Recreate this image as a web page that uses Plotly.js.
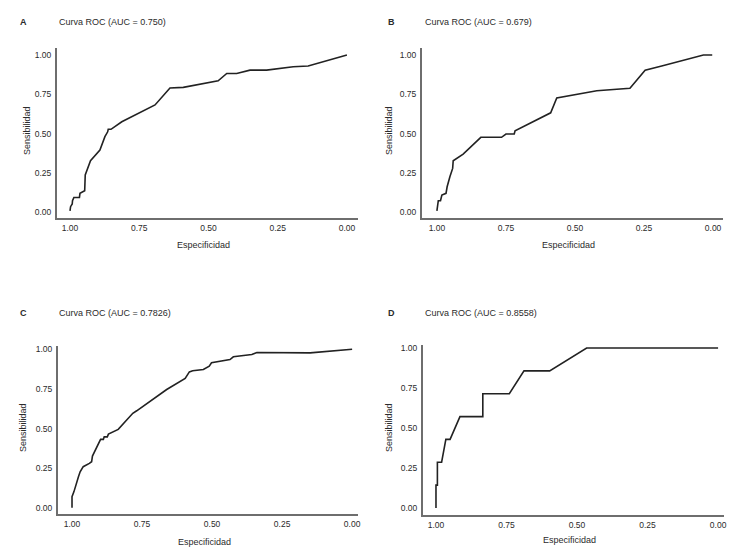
<!DOCTYPE html>
<html>
<head>
<meta charset="utf-8">
<script src="https://cdn.plot.ly/plotly-3.0.1.min.js"></script>
<style>html,body{margin:0;padding:0;background:#fff}#chart{width:749px;height:555px}</style>
</head>
<body>
<div id="chart"></div>
<script>
// Panel A (AUC = 0.750)
const specA = [1.0, 0.998, 0.992, 0.991, 0.986, 0.966, 0.964, 0.947, 0.945, 0.937, 0.926, 0.892, 0.874, 0.864, 0.862, 0.852, 0.813, 0.693, 0.639, 0.591, 0.465, 0.434, 0.398, 0.350, 0.290, 0.194, 0.140, 0.0];
const sensA = [0.008, 0.034, 0.051, 0.072, 0.093, 0.093, 0.119, 0.136, 0.236, 0.278, 0.327, 0.395, 0.480, 0.511, 0.527, 0.527, 0.575, 0.682, 0.790, 0.794, 0.836, 0.883, 0.883, 0.904, 0.904, 0.926, 0.930, 1.0];
// Panel B (AUC = 0.679)
const specB = [1.0, 0.999, 0.995, 0.987, 0.982, 0.967, 0.963, 0.953, 0.943, 0.941, 0.905, 0.841, 0.766, 0.750, 0.720, 0.717, 0.588, 0.566, 0.421, 0.301, 0.246, 0.186, 0.035, 0.003];
const sensB = [0.008, 0.024, 0.072, 0.072, 0.108, 0.119, 0.161, 0.225, 0.278, 0.327, 0.369, 0.476, 0.476, 0.497, 0.497, 0.518, 0.632, 0.726, 0.773, 0.788, 0.904, 0.930, 1.0, 1.0];
// Panel C (AUC = 0.7826)
const specC = [1.0, 1.0, 0.993, 0.986, 0.977, 0.971, 0.960, 0.938, 0.930, 0.927, 0.912, 0.898, 0.888, 0.885, 0.874, 0.870, 0.835, 0.783, 0.769, 0.662, 0.596, 0.581, 0.569, 0.531, 0.510, 0.502, 0.436, 0.424, 0.358, 0.340, 0.150, 0.0];
const sensC = [0.002, 0.071, 0.103, 0.151, 0.197, 0.228, 0.260, 0.281, 0.291, 0.327, 0.382, 0.432, 0.432, 0.448, 0.448, 0.465, 0.495, 0.596, 0.612, 0.746, 0.816, 0.857, 0.864, 0.872, 0.893, 0.914, 0.935, 0.952, 0.966, 0.979, 0.977, 1.0];
// Panel D (AUC = 0.8558)
const specD = [1.0, 1.0, 0.995, 0.995, 0.980, 0.965, 0.950, 0.915, 0.834, 0.834, 0.740, 0.688, 0.597, 0.466, 0.0];
const sensD = [0.0, 0.143, 0.143, 0.286, 0.286, 0.429, 0.429, 0.571, 0.571, 0.714, 0.714, 0.857, 0.857, 1.0, 1.0];

const panelLetters = ["A", "B", "C", "D"];
const panelTitles = ["Curva ROC (AUC = 0.750)", "Curva ROC (AUC = 0.679)", "Curva ROC (AUC = 0.7826)", "Curva ROC (AUC = 0.8558)"];
const tickVals = [0, 0.25, 0.5, 0.75, 1];
const tickText = ["0.00", "0.25", "0.50", "0.75", "1.00"];
const xTitle = "Especificidad";
const yTitle = "Sensibilidad";

const W = 749, H = 555;
const FONT = "Liberation Sans, Arial, sans-serif";
const TXT = "#2b2b2b";

const series = [[specA, sensA], [specB, sensB], [specC, sensC], [specD, sensD]];
// pixel geometry for each panel: [left, right, top, bottom]
const boxes = [[57, 358, 48, 218], [422, 723, 48, 218], [58, 358, 346, 514], [423, 724, 345, 515]];
const xr = [[1.047, -0.040], [1.054, -0.036], [1.05, -0.021], [1.046, -0.021]];
const yr = [[-0.038, 1.045], [-0.038, 1.045], [-0.038, 1.02], [-0.044, 1.019]];
const titleY = [22, 22, 313, 313];
const letterX = [18, 386, 18, 386];
const titleX = [57, 423, 57, 423];
const xTitleY = [245, 245, 542, 540];
const yTitleX = [27, 389, 23, 389];

const traces = [];
const layout = {
  width: W, height: H,
  margin: {l: 0, r: 0, t: 0, b: 0},
  paper_bgcolor: "#fff", plot_bgcolor: "#fff",
  showlegend: false,
  font: {family: FONT, color: TXT, size: 9},
  annotations: []
};

series.forEach((s, i) => {
  const n = i === 0 ? "" : String(i + 1);
  traces.push({
    x: s[0], y: s[1], type: "scatter", mode: "lines",
    xaxis: "x" + n, yaxis: "y" + n,
    line: {color: "#222", width: 1.6},
    hoverinfo: "skip"
  });
  const b = boxes[i];
  const common = {
    showgrid: false, zeroline: false, showline: true,
    linecolor: "#6e6e6e", linewidth: 2,
    ticks: "", tickvals: tickVals, ticktext: tickText,
    tickfont: {family: FONT, size: 8.5, color: TXT},
    fixedrange: true
  };
  layout["xaxis" + n] = Object.assign({}, common, {
    domain: [b[0] / W, b[1] / W],
    range: xr[i], anchor: "y" + n,
    ticklabelstandoff: 1
  });
  layout["yaxis" + n] = Object.assign({}, common, {
    domain: [1 - b[3] / H, 1 - b[2] / H],
    range: yr[i], anchor: "x" + n,
    ticklabelstandoff: 2
  });
  layout.annotations.push({
    xref: "paper", yref: "paper", x: letterX[i] / W, y: 1 - titleY[i] / H,
    xanchor: "left", yanchor: "middle", showarrow: false,
    text: "<b>" + panelLetters[i] + "</b>", font: {family: FONT, size: 9, color: TXT}
  });
  layout.annotations.push({
    xref: "paper", yref: "paper", x: titleX[i] / W, y: 1 - titleY[i] / H,
    xanchor: "left", yanchor: "middle", showarrow: false,
    text: panelTitles[i], font: {family: FONT, size: 9, color: TXT}
  });
  layout.annotations.push({
    xref: "paper", yref: "paper", x: ((b[0] + b[1]) / 2 - 4) / W, y: 1 - xTitleY[i] / H,
    xanchor: "center", yanchor: "middle", showarrow: false,
    text: xTitle, font: {family: FONT, size: 9, color: TXT}
  });
  layout.annotations.push({
    xref: "paper", yref: "paper", x: yTitleX[i] / W, y: 1 - ((b[2] + b[3]) / 2 - 2) / H,
    xanchor: "center", yanchor: "middle", showarrow: false, textangle: -90,
    text: yTitle, font: {family: FONT, size: 9, color: TXT}
  });
});

Plotly.newPlot("chart", traces, layout, {displayModeBar: false, staticPlot: true});
</script>
</body>
</html>
